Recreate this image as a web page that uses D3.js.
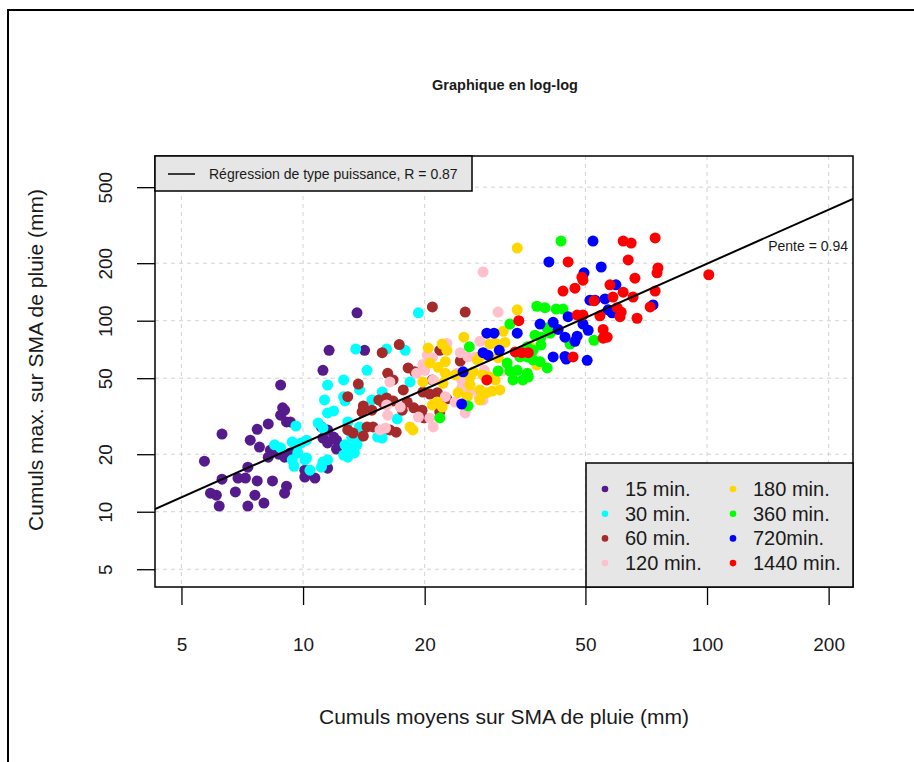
<!DOCTYPE html>
<html>
<head>
<meta charset="utf-8">
<script src="https://cdn.jsdelivr.net/npm/d3@7/dist/d3.min.js"></script>
<style>
  body { margin: 0; background: #fff; }
  svg { display: block; }
  text { font-family: "Liberation Sans", Arial, Helvetica, sans-serif; fill: #1a1a1a; }
</style>
</head>
<body>
<svg id="chart" width="914" height="762"></svg>
<script>
// Durées d'agrégation et couleurs associées
const durations = ["15 min.", "30 min.", "60 min.", "120 min.", "180 min.", "360 min.", "720min.", "1440 min."];
const durationColors = ["#551A8B", "#00FFFF", "#A52A2A", "#FFC0CB", "#FFD700", "#00FF00", "#0000FF", "#FF0000"];

// Cumuls moyens (x) et cumuls max. (y) sur SMA, en mm, par durée
const moy15 = [13.6, 11.6, 14.2, 11.2, 8.8, 8.9, 9.0, 8.8, 9.1, 6.3, 7.7, 8.2, 7.4, 7.8, 8.3, 8.6, 8.2, 8.7, 9.0, 9.3, 5.7, 7.3, 6.3, 6.9, 7.2, 7.7, 8.4, 9.1, 5.9, 6.1, 6.8, 7.6, 9.0, 6.2, 7.3, 8.0, 11.1, 11.5, 11.9, 11.2, 12.1, 11.5, 12.1, 11.5, 10.1, 10.1, 10.7, 9.3, 9.6];
const max15 = [110, 70, 70, 55, 46, 35, 34, 32, 29.5, 25.5, 27, 28.8, 23.7, 21.8, 21, 21, 19.3, 20, 19.3, 20.3, 18.4, 17.1, 14.8, 15, 15, 14.5, 14.5, 13.6, 12.5, 12.2, 12.7, 12.2, 12.5, 10.7, 10.7, 11.1, 27.8, 26.8, 24.6, 24.3, 23.7, 22.9, 21.3, 16.9, 16.5, 15.2, 15, 29.5, 20.5];

const moy30 = [13.5, 16.1, 17.9, 19.3, 14.4, 11.5, 12.6, 11.3, 12.6, 12.7, 11.9, 13.8, 14.8, 15.7, 18.4, 9.6, 10.9, 12.9, 13.8, 13.2, 13.8, 15.3, 16.1, 17.1, 9.7, 9.9, 12.7, 13.1, 13.6, 12.6, 12.9, 13.4, 9.4, 10.1, 11.2, 11.5, 9.5, 8.5, 8.8, 9.7, 10.2, 10.4, 11.1, 10.2, 9.4, 11.2, 15.7, 11.5];
const max30 = [71, 71, 70, 110, 55, 46, 49, 38.5, 40, 38, 33.7, 43.4, 38.5, 42.3, 47.8, 28.1, 29.1, 29.5, 27.8, 24.6, 24.6, 24.6, 26.8, 30.6, 22.4, 22.9, 22.4, 21.6, 22.4, 19.8, 19.3, 20.3, 18.7, 18.7, 18.2, 18.7, 17.3, 22.4, 21.6, 20.3, 19.1, 16.5, 17.1, 23.7, 23.2, 27.4, 24.3, 32.9];

const moy60 = [20.9, 25.2, 15.7, 17.3, 21.8, 24.5, 16.2, 16.7, 18.2, 18.9, 13.7, 17.7, 19.8, 20.9, 14.1, 12.9, 14.8, 15.4, 16.1, 16.7, 15.8, 17.6, 18.8, 19.7, 19.9, 21.8, 20.6, 21.5, 22.7, 18.1, 12.9, 14.4, 14.9, 14.1, 13.3, 16.4, 17.0, 14.0];
const max60 = [118, 111, 68, 75, 70, 61.5, 53, 49, 56.6, 54, 46.6, 43.4, 42.3, 49, 35.8, 40, 34, 38.5, 39.4, 38, 37, 34, 35, 34, 31, 33.3, 41.3, 42, 39, 37.5, 26.8, 27.8, 27.8, 24.9, 25.8, 26.8, 26.1, 33.3];

const moy120 = [27.9, 30.4, 22.7, 20.3, 20.9, 19.8, 24.5, 25.6, 27.4, 19.1, 24.1, 24.7, 28.1, 31.1, 24.7, 25.9, 27.9, 27.3, 23.8, 25.2, 16.1, 16.2, 17.4, 21.0, 16.4, 21.0, 19.3, 20.6, 15.5, 16.0, 22.5, 20.0, 24.9, 26.7];
const max120 = [180, 111, 76, 66, 64, 59, 68, 64.6, 78, 53, 53, 49, 55, 54.5, 44.4, 42.8, 38.5, 40, 37.5, 32.9, 36.2, 32, 35.3, 27.8, 47.8, 49, 31.3, 30.9, 26.8, 27.4, 40, 55, 46, 64.6];

const moy180 = [33.9, 33.9, 31.3, 25.0, 29.0, 30.0, 31.6, 20.4, 22.1, 22.7, 27.4, 27.0, 20.6, 21.6, 30.4, 36.5, 25.9, 27.9, 29.0, 26.4, 23.8, 22.5, 22.5, 22.2, 19.8, 25.9, 27.4, 28.5, 24.2, 25.5, 27.4, 30.7, 29.4, 21.5, 20.9, 22.1, 18.4, 18.7, 37.9, 29.9];
const max180 = [240, 114, 88, 82, 75.5, 76, 77, 72, 75.5, 70, 64.6, 62.3, 60, 57, 64, 73, 50.7, 52, 50.7, 54, 52, 53, 61, 47, 47.8, 46, 43.4, 42, 42, 40, 38.5, 43.4, 42.8, 37.5, 36.2, 35.3, 27.8, 26.8, 58.6, 49];

const moy360 = [43.5, 37.9, 39.7, 42.3, 44.0, 32.5, 37.5, 38.8, 40.2, 40.9, 25.8, 38.8, 32.0, 34.4, 35.9, 37.1, 38.6, 33.9, 35.9, 33.1, 35.0, 36.1, 40.2, 25.6, 21.8, 45.8, 52.5, 30.4, 35.9, 37.1, 32.5];
const max360 = [261, 119, 117, 115, 115, 96, 84, 82, 91.6, 86, 73, 74.6, 60, 64.6, 64.6, 62.3, 61, 55, 53, 49, 49, 50.7, 56.6, 35.8, 31, 75.5, 79, 54.5, 73, 70, 54.5];

const moy720 = [52.2, 40.6, 49.6, 54.7, 59.5, 51.3, 52.8, 55.9, 56.9, 58.2, 45.3, 38.6, 41.6, 28.5, 29.7, 33.9, 49.3, 50.8, 44.5, 47.7, 47.1, 42.8, 30.6, 28.7, 27.9, 41.6, 44.5, 44.8, 50.5, 24.9, 24.7, 73.5];
const max720 = [261, 203, 178, 191, 154, 128, 128, 130, 114, 110, 105, 96, 98, 86, 86, 86, 96, 89, 82, 83, 78, 90, 70, 66, 68, 64.6, 65, 63, 62, 54, 36.6, 121];

const moy1440 = [62.0, 64.9, 74.4, 45.3, 63.8, 75.6, 75.2, 49.3, 66.3, 44.0, 47.1, 57.5, 62.0, 58.5, 74.4, 52.5, 65.6, 59.9, 61.3, 60.9, 67.1, 54.3, 72.3, 47.7, 55.3, 56.6, 55.3, 46.6, 101, 34.2, 33.5, 34.8, 36.1, 28.5, 49.0, 49.3];
const max1440 = [261, 255, 271, 203, 208, 189, 178, 163, 167, 143, 148, 154, 141, 133, 143, 127, 133, 117, 111, 105, 103, 106, 118, 107, 90, 82, 81, 64.6, 174, 100, 68.6, 68, 68, 49, 169, 107];

const moyens = [moy15, moy30, moy60, moy120, moy180, moy360, moy720, moy1440];
const maxima = [max15, max30, max60, max120, max180, max360, max720, max1440];

// Régression de type puissance : max = a * moy^b
const regA = 2.62;
const regPente = 0.94;
const regR = 0.87;

// Graduations des axes
const xTicks = [5, 10, 20, 50, 100, 200];
const yTicks = [5, 10, 20, 50, 100, 200, 500];

const svg = d3.select("#chart");
const plot = { left: 155, right: 853, top: 156, bottom: 587 };

const x = d3.scaleLog().domain([4.30, 229.8]).range([plot.left, plot.right]);
const y = d3.scaleLog().domain([4.036, 728]).range([plot.bottom, plot.top]);

// Cadre extérieur de la figure
svg.append("path")
  .attr("d", "M8,762 L8,10 L914,10")
  .attr("fill", "none").attr("stroke", "#000").attr("stroke-width", 2);

// Titre
svg.append("text")
  .attr("x", 505).attr("y", 90)
  .attr("text-anchor", "middle")
  .style("font-size", "14.5px").style("font-weight", "bold")
  .text("Graphique en log-log");

// Grille pointillée
const grid = svg.append("g");
grid.selectAll("line.vx").data(xTicks).join("line")
  .attr("x1", d => x(d)).attr("x2", d => x(d))
  .attr("y1", plot.top).attr("y2", plot.bottom)
  .attr("stroke", "#d3d3d3").attr("stroke-dasharray", "4,4");
grid.selectAll("line.hy").data(yTicks).join("line")
  .attr("x1", plot.left).attr("x2", plot.right)
  .attr("y1", d => y(d)).attr("y2", d => y(d))
  .attr("stroke", "#d3d3d3").attr("stroke-dasharray", "4,4");

// Nuages de points par durée
const pts = svg.append("g");
durations.forEach((lab, i) => {
  const rows = moyens[i].map((m, k) => ({ m, M: maxima[i][k] }));
  pts.append("g").selectAll("circle").data(rows).join("circle")
    .attr("cx", d => x(d.m)).attr("cy", d => y(d.M))
    .attr("r", 5.5)
    .attr("fill", durationColors[i]);
});

// Droite de régression
svg.append("clipPath").attr("id", "clip")
  .append("rect").attr("x", plot.left).attr("y", plot.top)
  .attr("width", plot.right - plot.left).attr("height", plot.bottom - plot.top);
const xr = x.domain();
const line = d3.line().x(d => x(d)).y(d => y(regA * Math.pow(d, regPente)));
svg.append("path").datum(xr)
  .attr("d", line)
  .attr("clip-path", "url(#clip)")
  .attr("fill", "none").attr("stroke", "#000").attr("stroke-width", 2);

svg.append("text")
  .attr("x", 848).attr("y", 251)
  .attr("text-anchor", "end")
  .style("font-size", "14px")
  .text("Pente = " + regPente.toFixed(2));

// Axes
const xAxis = svg.append("g")
  .attr("transform", `translate(0,${plot.bottom})`)
  .call(d3.axisBottom(x).tickValues(xTicks).tickFormat(d3.format("d")).tickSize(18).tickPadding(33));
xAxis.select(".domain").remove();
xAxis.selectAll("line").attr("stroke", "#000").attr("stroke-width", 1.3);
xAxis.selectAll("text").style("font-size", "19px").attr("fill", "#1a1a1a").style("font-family", "'Liberation Sans', Arial, sans-serif");

const yAxis = svg.append("g")
  .attr("transform", `translate(${plot.left},0)`)
  .call(d3.axisLeft(y).tickValues(yTicks).tickFormat(d3.format("d")).tickSize(18));
yAxis.select(".domain").remove();
yAxis.selectAll("line").attr("stroke", "#000").attr("stroke-width", 1.3);
yAxis.selectAll("text")
  .attr("x", null).attr("dy", null)
  .attr("text-anchor", "middle")
  .attr("transform", "translate(-43,0) rotate(-90)")
  .style("font-size", "19px").attr("fill", "#1a1a1a").style("font-family", "'Liberation Sans', Arial, sans-serif");

// Cadre du graphique
svg.append("rect")
  .attr("x", plot.left).attr("y", plot.top)
  .attr("width", plot.right - plot.left).attr("height", plot.bottom - plot.top)
  .attr("fill", "none").attr("stroke", "#000").attr("stroke-width", 1.5);

// Titres des axes
svg.append("text")
  .attr("x", (plot.left + plot.right) / 2).attr("y", 724)
  .attr("text-anchor", "middle").style("font-size", "21px")
  .text("Cumuls moyens sur SMA de pluie (mm)");
svg.append("text")
  .attr("transform", `translate(43,360) rotate(-90)`)
  .attr("text-anchor", "middle").style("font-size", "21px")
  .text("Cumuls max. sur SMA de pluie (mm)");

// Légende de la régression
const lg1 = svg.append("g");
lg1.append("rect").attr("x", plot.left).attr("y", plot.top).attr("width", 317).attr("height", 35)
  .attr("fill", "#e6e6e6").attr("stroke", "#000").attr("stroke-width", 1.5);
lg1.append("line").attr("x1", 168).attr("x2", 195).attr("y1", 174).attr("y2", 174)
  .attr("stroke", "#000").attr("stroke-width", 1.5);
lg1.append("text").attr("x", 209).attr("y", 179).style("font-size", "14px")
  .text("Régression de type puissance, R = " + regR.toFixed(2));

// Légende des durées
const lg2 = svg.append("g");
lg2.append("rect").attr("x", 586).attr("y", 463).attr("width", plot.right - 586).attr("height", plot.bottom - 463)
  .attr("fill", "#e6e6e6").attr("stroke", "#000").attr("stroke-width", 1.5);
const items = lg2.selectAll("g.item").data(durations).join("g")
  .attr("transform", (d, i) => `translate(${i < 4 ? 605 : 733},${489 + (i % 4) * 24.7})`);
items.append("circle").attr("r", 3.3).attr("fill", (d, i) => durationColors[i]);
items.append("text").attr("x", 20).attr("y", 7).style("font-size", "20px").text(d => d);
</script>
</body>
</html>
